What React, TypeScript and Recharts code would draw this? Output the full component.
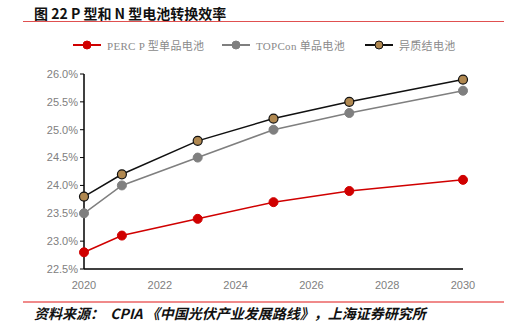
import React from 'react'
import { LineChart, Line, XAxis, YAxis } from 'recharts'

const years = [2020, 2021, 2023, 2025, 2027, 2030]
const percValues = [22.8, 23.1, 23.4, 23.7, 23.9, 24.1]
const topconValues = [23.5, 24.0, 24.5, 25.0, 25.3, 25.7]
const hjtValues = [23.8, 24.2, 24.8, 25.2, 25.5, 25.9]
const xTicks = [2020, 2022, 2024, 2026, 2028, 2030]
const yTicks = [22.5, 23.0, 23.5, 24.0, 24.5, 25.0, 25.5, 26.0]

const data = years.map((year, i) => ({
  year,
  perc: percValues[i],
  topcon: topconValues[i],
  hjt: hjtValues[i],
}))

const RED = '#d00000'
const GREY = '#7f7f7f'
const BLACK = '#111111'
const BROWN = '#b08850'

const legendItems = [
  { label: 'PERC P 型单品电池', line: RED, fill: RED, stroke: RED, x: 73 },
  { label: 'TOPCon 单品电池', line: GREY, fill: GREY, stroke: GREY, x: 222 },
  { label: '异质结电池', line: BLACK, fill: BROWN, stroke: BLACK, x: 365 },
]

export default function App() {
  const tickStyle = { fill: '#808080', fontSize: 11, fontFamily: 'Liberation Sans, Arial, sans-serif' }
  return (
    <div style={{ position: 'absolute', left: 0, top: 0, width: 518, height: 329, background: '#fff', overflow: 'hidden' }}>
      {/* title */}
      <div
        style={{
          position: 'absolute', left: 34, top: 3, fontSize: 14, fontWeight: 'bold',
          fontFamily: '"Noto Sans CJK SC", sans-serif', color: '#111', lineHeight: '20px',
        }}
      >
        图 22 P 型和 N 型电池转换效率
      </div>
      <div style={{ position: 'absolute', left: 23, top: 21, width: 481, height: 1, background: '#e05050' }} />

      {/* legend */}
      {legendItems.map((item) => (
        <div key={item.label} style={{ position: 'absolute', left: item.x, top: 37, height: 16, display: 'flex', alignItems: 'center' }}>
          <svg width={28} height={16}>
            <line x1={0} y1={8} x2={28} y2={8} stroke={item.line} strokeWidth={2} />
            <circle cx={14} cy={8} r={4} fill={item.fill} stroke={item.stroke} strokeWidth={1} />
          </svg>
          <span style={{ marginLeft: 6, fontSize: 11, color: '#8a8a8a', letterSpacing: 0.3, fontFamily: '"Liberation Serif", "Noto Sans CJK SC", serif' }}>
            {item.label}
          </span>
        </div>
      ))}

      <div style={{ position: 'absolute', left: 0, top: 0 }}>
        <LineChart width={518} height={300} data={data} margin={{ top: 74, right: 55, left: 0, bottom: 11 }}>
          <XAxis
            dataKey="year"
            type="number"
            domain={[2020, 2030]}
            ticks={xTicks}
            tickLine={false}
            axisLine={{ stroke: '#000', strokeWidth: 1.5 }}
            tick={tickStyle}
            height={20}
            tickMargin={6}
          />
          <YAxis
            type="number"
            domain={[22.5, 26]}
            ticks={yTicks}
            width={84}
            tickFormatter={(v: number) => `${v.toFixed(1)}%`}
            tickLine={{ stroke: '#000' }}
            tickSize={4}
            axisLine={{ stroke: '#000', strokeWidth: 1.5 }}
            tick={tickStyle}
            interval={0}
          />
          <Line dataKey="perc" stroke={RED} strokeWidth={1.5} dot={{ r: 4.5, fill: RED, stroke: RED, strokeWidth: 1 }} isAnimationActive={false} />
          <Line dataKey="topcon" stroke={GREY} strokeWidth={1.5} dot={{ r: 4.5, fill: GREY, stroke: GREY, strokeWidth: 1 }} isAnimationActive={false} />
          <Line dataKey="hjt" stroke={BLACK} strokeWidth={1.5} dot={{ r: 4.5, fill: BROWN, stroke: BLACK, strokeWidth: 1.2 }} isAnimationActive={false} />
        </LineChart>
      </div>

      {/* source */}
      <div style={{ position: 'absolute', left: 23, top: 301, width: 481, height: 2, background: '#f08a8a' }} />
      <div
        style={{
          position: 'absolute', left: 34, top: 303, fontSize: 14, fontStyle: 'italic', fontWeight: 'bold',
          fontFamily: '"Noto Sans CJK SC", sans-serif', color: '#111', lineHeight: '20px', whiteSpace: 'nowrap',
        }}
      >
        资料来源：&nbsp;&nbsp;CPIA 《中国光伏产业发展路线》，上海证券研究所
      </div>
    </div>
  )
}
